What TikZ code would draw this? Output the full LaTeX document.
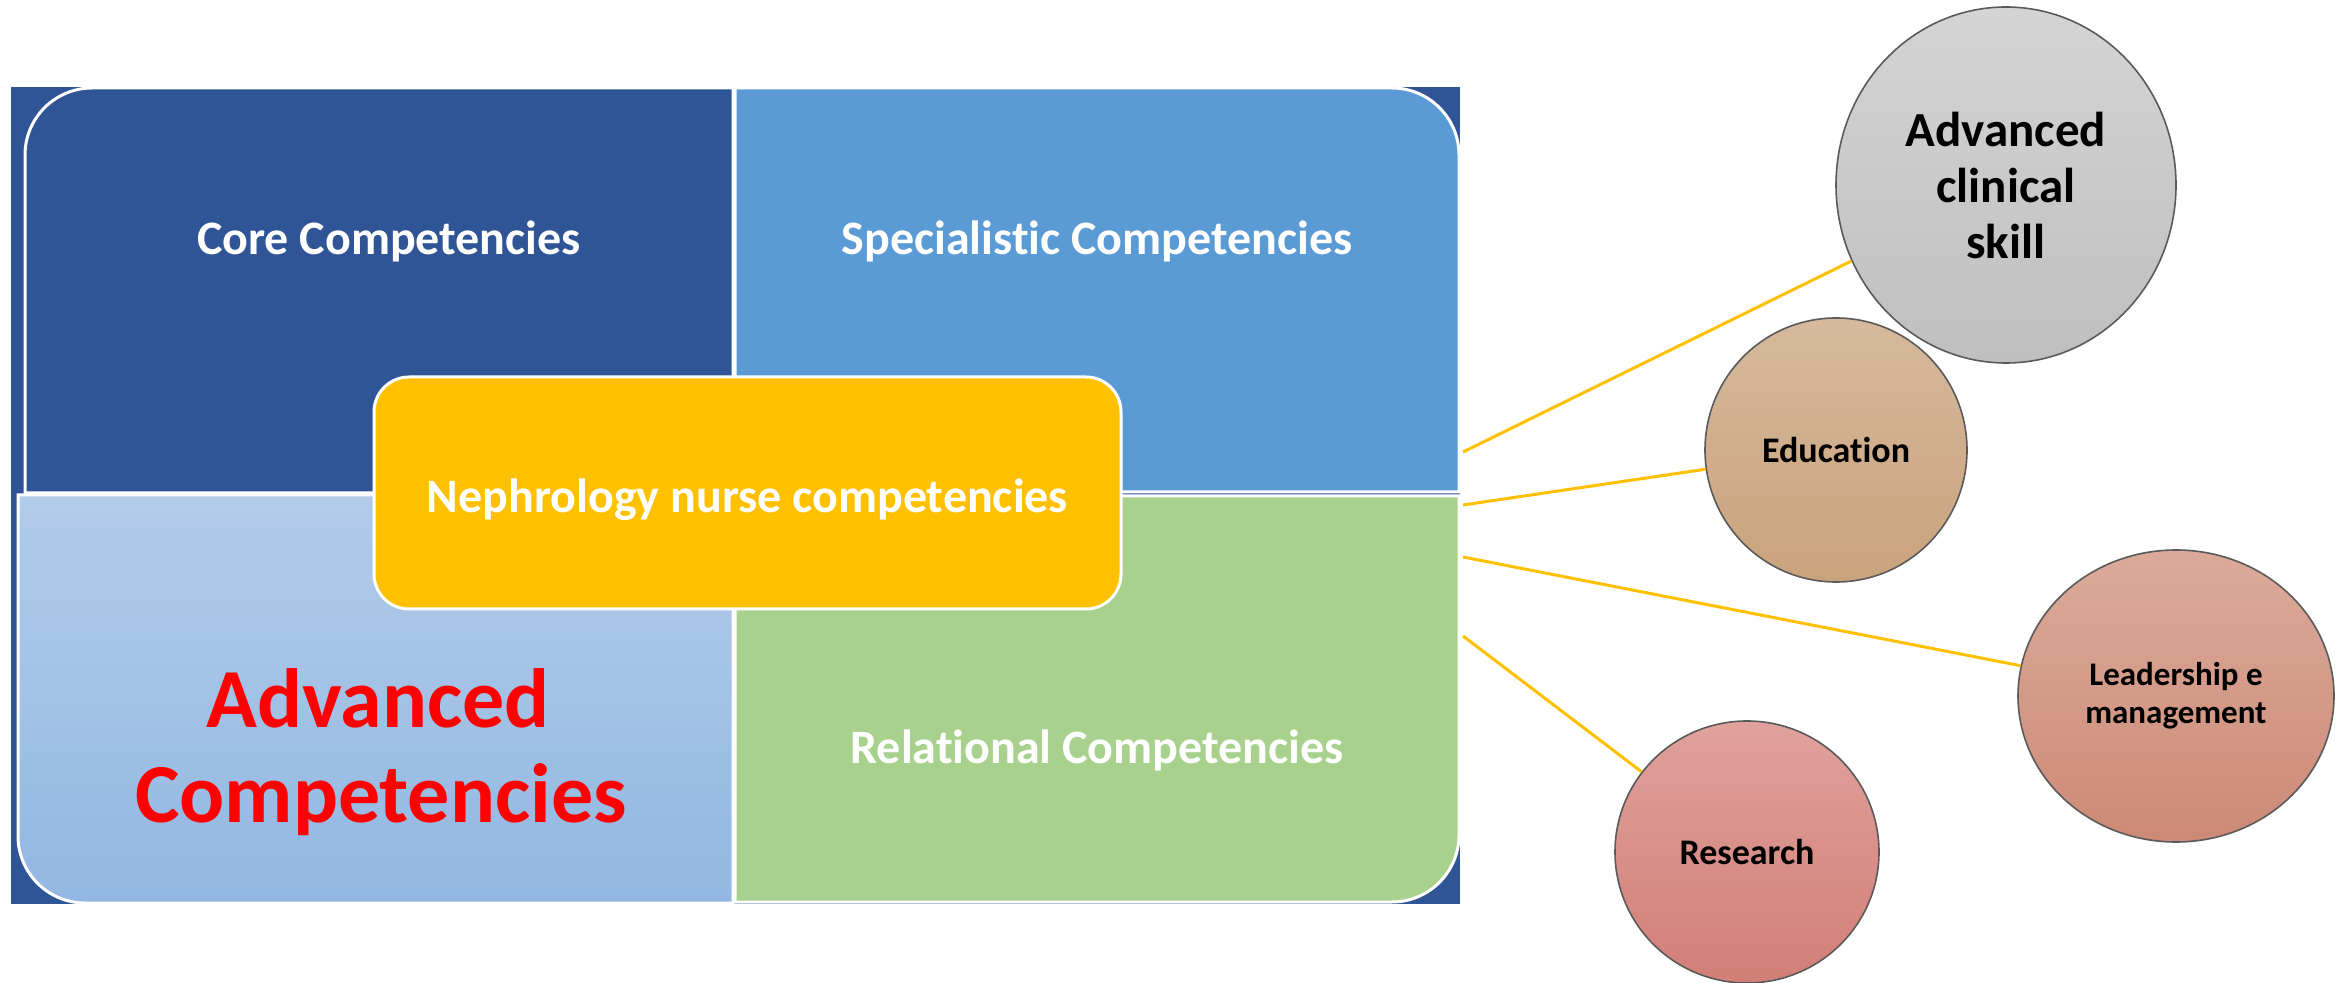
\documentclass[tikz,border=0pt]{standalone}
\usepackage{fontspec}
\setmainfont{Carlito}[RawFeature={-liga;-clig;-calt;-dlig;-rlig}]
\usetikzlibrary{shapes.geometric}
\definecolor{dkblue}{HTML}{2F5597}
\definecolor{spblue}{HTML}{5B9BD5}
\definecolor{relgreen}{HTML}{A9D18E}
\definecolor{advT}{HTML}{B2CCE9}
\definecolor{advB}{HTML}{92B7E2}
\definecolor{nephyellow}{HTML}{FFC000}
\definecolor{greyT}{HTML}{D4D4D4}
\definecolor{greyB}{HTML}{BFBFBF}
\definecolor{eduT}{HTML}{D6B99D}
\definecolor{eduB}{HTML}{C9A37C}
\definecolor{leadT}{HTML}{DBAA9B}
\definecolor{leadB}{HTML}{CD8A76}
\definecolor{resT}{HTML}{E0A19C}
\definecolor{resB}{HTML}{D27E77}
\definecolor{bubline}{HTML}{5A5A5A}
\tikzset{
  quad/.style={draw=white, line width=1.5pt},
  lbl/.style={font=\fontsize{24}{28}\selectfont\bfseries, text=white, inner sep=0pt, anchor=base},
  advlbl/.style={font=\fontsize{42}{47}\selectfont\bfseries, text=red, inner sep=0pt, anchor=base},
  bub/.style={ellipse, draw=bubline, line width=0.8pt, inner sep=0pt, align=center, text=black},
  link/.style={draw=nephyellow, line width=1.5pt}
}
\begin{document}
\begin{tikzpicture}[x=0.5pt,y=-0.5pt]
\useasboundingbox (0,0) rectangle (2336,983);
% background
\fill[dkblue] (11,87) rectangle (1460,904);
% core
\draw[quad, fill=dkblue] (25,493) -- (25,155) .. controls (25,118) and (55,88) .. (92,88) -- (733,88) -- (733,493) -- cycle;
% specialistic
\draw[quad, fill=spblue] (735,88) -- (1392,88) .. controls (1429,88) and (1459,118) .. (1459,155) -- (1459,492) -- (735,492) -- cycle;
% relational
\draw[quad, fill=relgreen] (735,496) -- (1459,496) -- (1459,835) .. controls (1459,872) and (1429,902) .. (1392,902) -- (735,902) -- cycle;
% advanced
\draw[quad, top color=advT, bottom color=advB] (18,495) -- (733,495) -- (733,903) -- (85,903) .. controls (48,903) and (18,873) .. (18,836) -- cycle;
% labels
\node[lbl] (core) at (389,255) {Core Competencies};
\node[lbl] (spec) at (1097,255) {Specialistic Competencies};
\node[lbl] (rel) at (1097,764) {Relational Competencies};
\node[advlbl] (adv1) at (378,728) {Advanced};
\node[advlbl] (adv2) at (381,822) {Competencies};
% center
\node[draw=white, line width=1.5pt, fill=nephyellow, rounded corners=17.5pt,
      minimum width=373.5pt, minimum height=116pt, text=white,
      font=\fontsize{24}{28}\selectfont\bfseries, text height=20pt, text depth=0pt] (neph) at (747.5,493) {Nephrology nurse competencies};
% bubbles
\node[bub, minimum width=170pt, minimum height=178pt, top color=greyT, bottom color=greyB,
      font=\fontsize{24.5}{28}\selectfont\bfseries] (skill) at (2006,185) {Advanced\\clinical\\skill};
\node[bub, minimum width=131pt, minimum height=132pt, top color=eduT, bottom color=eduB,
      font=\fontsize{18}{22}\selectfont\bfseries] (edu) at (1836,450) {Education};
\node[bub, minimum width=158pt, minimum height=146pt, top color=leadT, bottom color=leadB,
      font=\fontsize{16.5}{19}\selectfont\bfseries] (lead) at (2176,696) {Leadership e\\management};
\node[bub, minimum width=132pt, minimum height=131pt, top color=resT, bottom color=resB,
      font=\fontsize{18}{22}\selectfont\bfseries] (res) at (1747,852) {Research};
% connectors
\coordinate (c1) at (1463,452);
\coordinate (c2) at (1463,505);
\coordinate (c3) at (1463,557);
\coordinate (c4) at (1463,636);
\draw[link] (c1) -- (skill);
\draw[link] (c2) -- (edu);
\draw[link] (c3) -- (lead);
\draw[link] (c4) -- (res);
\end{tikzpicture}
\end{document}
